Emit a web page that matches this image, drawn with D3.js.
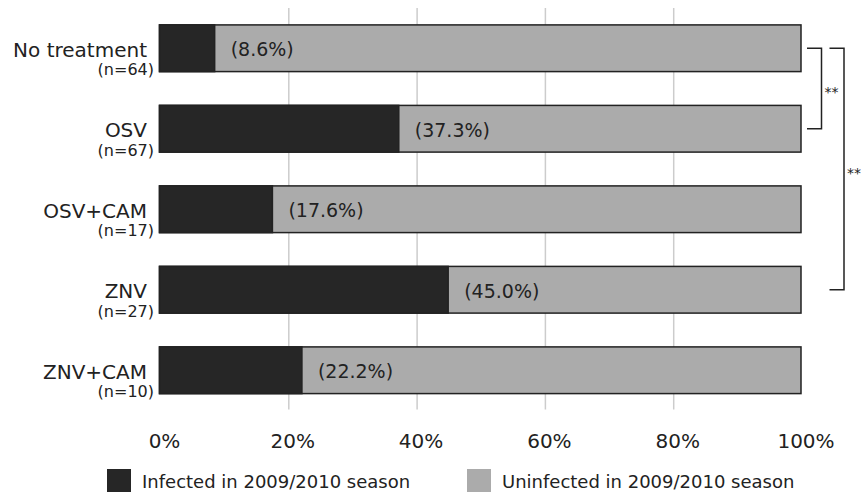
<!DOCTYPE html>
<html>
<head>
<meta charset="utf-8">
<script src="https://cdn.jsdelivr.net/npm/d3@7"></script>
<style>
  html, body { margin: 0; padding: 0; background: #fff; }
  svg { display: block; }
  text { font-family: "DejaVu Sans", sans-serif; fill: #222; }
</style>
</head>
<body>
<svg id="chart" width="864" height="492"></svg>
<script>
const categories = ["No treatment", "OSV", "OSV+CAM", "ZNV", "ZNV+CAM"];
const sampleSizes = [64, 67, 17, 27, 10];
const infectedPct = [8.6, 37.3, 17.6, 45.0, 22.2];
const tickValues = [0, 20, 40, 60, 80, 100];
const seriesNames = ["Infected in 2009/2010 season", "Uninfected in 2009/2010 season"];
const seriesColors = ["#262626", "#ababab"];
const bracketFrom = [0, 0];
const bracketTo = [1, 3];
const bracketLabels = ["**", "**"];

const svg = d3.select("#chart");

const x = d3.scaleLinear().domain([0, 100]).range([159.5, 801]);
const y = d3.scaleBand().domain(categories).range([8, 410.5])
  .paddingInner(0.42).paddingOuter(0.21);

// gridlines
svg.append("g").selectAll("line").data(tickValues.filter(d => d > 0 && d < 100)).join("line")
  .attr("x1", d => x(d) + 1).attr("x2", d => x(d) + 1)
  .attr("y1", y.range()[0]).attr("y2", y.range()[1] - 1)
  .attr("stroke", "#cccccc").attr("stroke-width", 1.5);

// tick labels
svg.append("g").selectAll("text").data(tickValues).join("text")
  .attr("x", d => x(d) + 5).attr("y", 448)
  .attr("text-anchor", "middle").attr("font-size", 20)
  .text(d => d + "%");

const rows = categories.map((c, i) => ({ cat: c, n: sampleSizes[i], inf: infectedPct[i] }));

const bars = svg.append("g").selectAll("g").data(rows).join("g");

// uninfected (full bar)
bars.append("rect")
  .attr("x", x(0)).attr("y", d => y(d.cat))
  .attr("width", x(100) - x(0)).attr("height", y.bandwidth())
  .attr("fill", seriesColors[1]).attr("stroke", "#222").attr("stroke-width", 1.5);

// infected
bars.append("rect")
  .attr("x", x(0)).attr("y", d => y(d.cat))
  .attr("width", d => x(d.inf) - x(0)).attr("height", y.bandwidth())
  .attr("fill", seriesColors[0]).attr("stroke", "#222").attr("stroke-width", 1.5);

// percentage labels
bars.append("text")
  .attr("x", d => x(d.inf) + 16).attr("y", d => y(d.cat) + y.bandwidth() / 2 + 8)
  .attr("font-size", 19)
  .text(d => "(" + d.inf.toFixed(1) + "%)");

// category labels
bars.append("text")
  .attr("x", 147).attr("y", d => y(d.cat) + y.bandwidth() / 2 + 8.5)
  .attr("text-anchor", "end").attr("font-size", 20)
  .text(d => d.cat);
bars.append("text")
  .attr("x", 154).attr("y", d => y(d.cat) + y.bandwidth() / 2 + 27)
  .attr("text-anchor", "end").attr("font-size", 16)
  .text(d => "(n=" + d.n + ")");

// significance brackets
const bx = [[807, 821.5], [829.5, 844]];
bracketFrom.forEach((f, i) => {
  const y1 = y(categories[f]) + y.bandwidth() / 2;
  const y2 = y(categories[bracketTo[i]]) + y.bandwidth() / 2;
  const [xa, xb] = bx[i];
  svg.append("path")
    .attr("d", `M${xa},${y1}H${xb}V${y2}H${xa}`)
    .attr("fill", "none").attr("stroke", "#222").attr("stroke-width", 1.5);
  svg.append("text")
    .attr("x", xb + 3).attr("y", (y1 + y2) / 2 + 8.5)
    .attr("font-size", 14)
    .text(bracketLabels[i]);
});

// legend
const legX = [107, 467];
seriesNames.forEach((s, i) => {
  svg.append("rect").attr("x", legX[i]).attr("y", 469)
    .attr("width", 24).attr("height", 23).attr("fill", seriesColors[i]);
  svg.append("text").attr("x", legX[i] + 35).attr("y", 488)
    .attr("font-size", 18).text(s);
});
</script>
</body>
</html>
